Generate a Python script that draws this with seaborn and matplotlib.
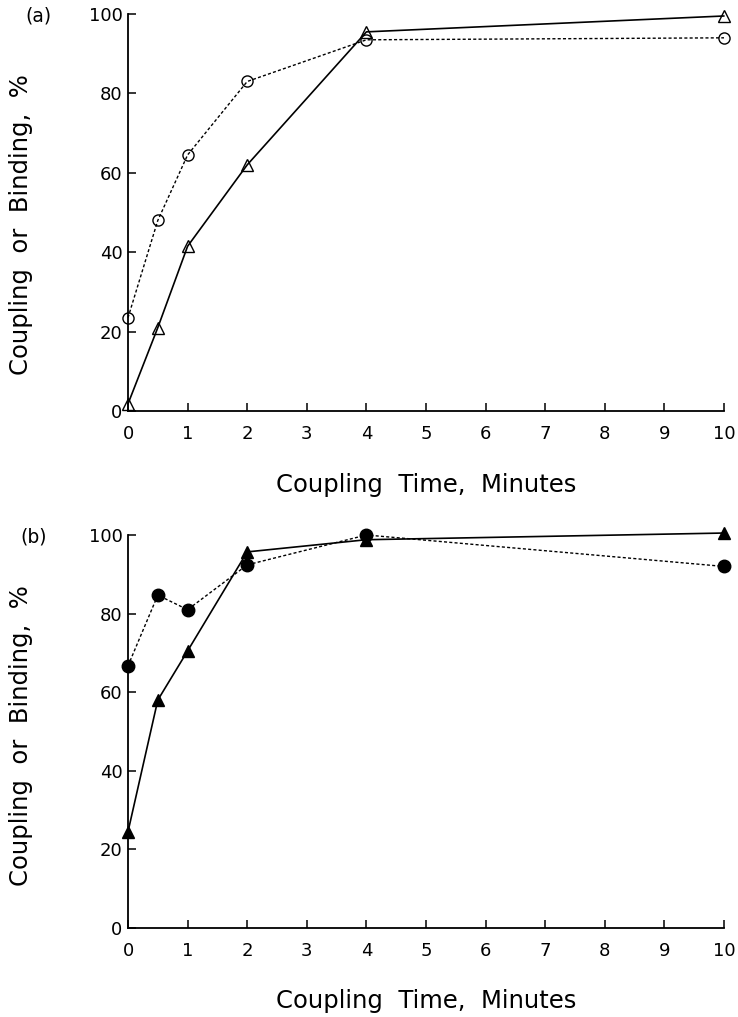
import matplotlib
matplotlib.use("Agg")
import matplotlib.pyplot as plt
import seaborn as sns

# coupling time, minutes
time = [0, 0.5, 1, 2, 4, 10]

# panel (a): open symbols
a_binding = [23.5, 48, 64.5, 83, 93.5, 94]      # circles, dotted
a_coupling = [1.8, 21, 41.5, 62, 95.5, 99.5]    # triangles, solid

# panel (b): filled symbols
b_binding = [66.7, 84.7, 81, 92.4, 100, 92]     # circles, dotted
b_coupling = [24.5, 58, 70.5, 95.7, 98.8, 100.5]  # triangles, solid

x_ticks = list(range(0, 11))
y_ticks = [0, 20, 40, 60, 80, 100]
panel_tags = ["(a)", "(b)"]

sns.set_style("ticks")
plt.rcParams["font.family"] = ["DejaVu Sans"]
plt.rcParams["text.color"] = "black"
plt.rcParams["axes.labelcolor"] = "black"

fig = plt.figure(figsize=(7.38, 10.17), dpi=100)
ax_a = fig.add_axes([128 / 738, 1 - 411 / 1017, 596 / 738, 397 / 1017])
ax_b = fig.add_axes([128 / 738, 1 - 928 / 1017, 596 / 738, 393 / 1017])

dotted = (0, (2.2, 1.6))


def draw_panel(ax, binding, coupling, filled):
    face = "black" if filled else "none"
    sns.lineplot(x=time, y=binding, ax=ax, color="black", linestyle=dotted,
                 linewidth=1.0, marker="o", markersize=9 if filled else 8,
                 markerfacecolor=face, markeredgecolor="black",
                 markeredgewidth=1.0, clip_on=False, zorder=3)
    sns.lineplot(x=time, y=coupling, ax=ax, color="black", linestyle="-",
                 linewidth=1.2, marker="^", markersize=9 if filled else 8,
                 markerfacecolor=face, markeredgecolor="black",
                 markeredgewidth=1.0, clip_on=False, zorder=3)
    ax.set_xlim(0, 10)
    ax.set_ylim(0, 100)
    ax.set_xticks(x_ticks)
    ax.set_yticks(y_ticks)
    sns.despine(ax=ax)
    for side in ["left", "bottom"]:
        ax.spines[side].set_linewidth(1.3)
        ax.spines[side].set_color("black")
    ax.tick_params(direction="in", length=6, width=1.1, labelsize=13,
                   colors="black")
    ax.tick_params(axis="x", pad=10)
    ax.tick_params(axis="y", pad=4)
    ax.set_xlabel("Coupling  Time,  Minutes", fontsize=17.5)
    ax.set_ylabel("Coupling  or  Binding,  %", fontsize=17.5)
    ax.xaxis.set_label_coords(0.5, -0.155)


draw_panel(ax_a, a_binding, a_coupling, filled=False)
draw_panel(ax_b, b_binding, b_coupling, filled=True)
ax_a.yaxis.set_label_coords(-0.16, 0.47)
ax_b.yaxis.set_label_coords(-0.16, 0.49)

fig.text(38 / 738, 1 - 16 / 1017, panel_tags[0], fontsize=13.5,
         ha="center", va="center")
fig.text(34 / 738, 1 - 537 / 1017, panel_tags[1], fontsize=13.5,
         ha="center", va="center")

fig.savefig("out.png", dpi=100)
